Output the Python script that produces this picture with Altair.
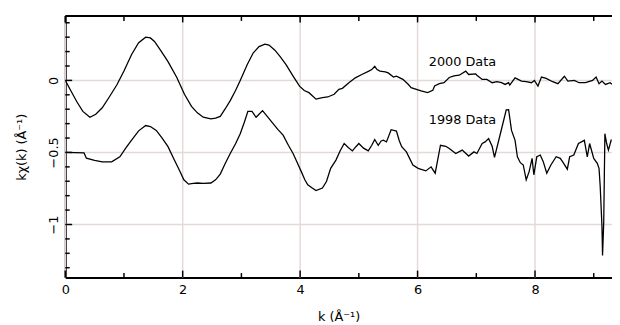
import altair as alt
import pandas as pd

# ---- data ----
k_2000 = [0.00, 0.10, 0.20, 0.30, 0.42, 0.52, 0.63, 0.75, 0.88, 1.00, 1.13, 1.25, 1.37, 1.45, 1.52,
          1.63, 1.75, 1.90, 2.03, 2.15, 2.25, 2.35, 2.48, 2.56, 2.64, 2.72, 2.81, 2.90, 2.98, 3.10,
          3.20, 3.30, 3.40, 3.47, 3.57, 3.66, 3.76, 3.88, 3.99, 4.07, 4.15, 4.27, 4.38, 4.47, 4.58,
          4.66, 4.72, 4.83, 4.94, 5.05, 5.17, 5.22, 5.27, 5.31, 5.36, 5.45, 5.50, 5.59, 5.64, 5.75,
          5.84, 5.89, 5.98, 6.06, 6.17, 6.26, 6.29, 6.37, 6.45, 6.54, 6.62, 6.71, 6.82, 6.87, 6.99,
          7.01, 7.10, 7.18, 7.27, 7.35, 7.43, 7.49, 7.55, 7.57, 7.66, 7.77, 7.85, 7.94, 7.99, 8.05,
          8.11, 8.19, 8.30, 8.39, 8.50, 8.56, 8.67, 8.75, 8.86, 8.98, 9.04, 9.09, 9.14, 9.20, 9.28, 9.31]
chi_2000 = [0.000, -0.075, -0.150, -0.215, -0.256, -0.235, -0.190, -0.115, -0.030, 0.065, 0.180, 0.262,
            0.300, 0.295, 0.270, 0.205, 0.130, 0.020, -0.096, -0.180, -0.225, -0.255, -0.267, -0.262,
            -0.250, -0.200, -0.140, -0.070, 0.000, 0.110, 0.190, 0.235, 0.252, 0.245, 0.210, 0.165,
            0.110, 0.030, -0.040, -0.070, -0.085, -0.130, -0.119, -0.115, -0.096, -0.062, -0.055,
            -0.016, 0.018, 0.041, 0.064, 0.075, 0.098, 0.075, 0.064, 0.059, 0.052, 0.023, 0.030,
            0.007, -0.027, -0.050, -0.062, -0.073, -0.085, -0.069, -0.039, -0.023, -0.016, 0.020,
            0.032, 0.036, 0.064, 0.041, 0.045, 0.036, 0.007, 0.007, -0.016, -0.009, -0.016, -0.028,
            -0.016, -0.032, 0.018, -0.005, -0.009, -0.016, 0.000, -0.039, 0.023, 0.014, -0.009,
            -0.023, 0.029, -0.005, 0.000, -0.016, -0.016, 0.000, 0.023, -0.023, -0.005, -0.028,
            -0.016, -0.027]

k_1998 = [0.00, 0.32, 0.36, 0.50, 0.63, 0.79, 0.93, 1.03, 1.13, 1.25, 1.37, 1.45, 1.55, 1.65, 1.75,
          1.85, 1.94, 2.02, 2.10, 2.18, 2.25, 2.35, 2.48, 2.56, 2.64, 2.72, 2.81, 2.90, 2.98, 3.05,
          3.11, 3.18, 3.25, 3.30, 3.36, 3.45, 3.54, 3.62, 3.71, 3.80, 3.88, 3.95, 4.02, 4.08, 4.13,
          4.20, 4.27, 4.38, 4.45, 4.52, 4.61, 4.68, 4.75, 4.82, 4.89, 4.95, 5.00, 5.08, 5.16, 5.22,
          5.27, 5.33, 5.38, 5.42, 5.47, 5.55, 5.64, 5.69, 5.73, 5.81, 5.92, 6.01, 6.14, 6.23, 6.30,
          6.39, 6.48, 6.54, 6.65, 6.76, 6.87, 6.96, 7.01, 7.10, 7.15, 7.21, 7.27, 7.31, 7.41, 7.51,
          7.55, 7.60, 7.66, 7.70, 7.75, 7.80, 7.85, 7.90, 7.95, 7.98, 8.03, 8.09, 8.14, 8.20, 8.27,
          8.36, 8.43, 8.48, 8.55, 8.59, 8.66, 8.74, 8.84, 8.89, 8.93, 9.00, 9.06, 9.09, 9.11, 9.14,
          9.15, 9.17, 9.19, 9.22, 9.25, 9.30]
chi_1998 = [-0.500, -0.503, -0.540, -0.555, -0.565, -0.565, -0.530, -0.470, -0.415, -0.350, -0.313,
            -0.320, -0.347, -0.400, -0.460, -0.545, -0.620, -0.690, -0.720, -0.715, -0.712, -0.715,
            -0.712, -0.690, -0.650, -0.580, -0.507, -0.440, -0.370, -0.290, -0.215, -0.215, -0.256,
            -0.235, -0.210, -0.255, -0.300, -0.340, -0.380, -0.450, -0.507, -0.570, -0.633, -0.690,
            -0.724, -0.745, -0.765, -0.747, -0.700, -0.610, -0.553, -0.490, -0.438, -0.465, -0.489,
            -0.460, -0.438, -0.470, -0.489, -0.450, -0.410, -0.450, -0.420, -0.415, -0.427, -0.342,
            -0.352, -0.420, -0.460, -0.496, -0.587, -0.610, -0.628, -0.600, -0.644, -0.450, -0.457,
            -0.473, -0.507, -0.484, -0.525, -0.496, -0.507, -0.438, -0.427, -0.404, -0.457, -0.534,
            -0.370, -0.205, -0.203, -0.347, -0.416, -0.530, -0.571, -0.587, -0.690, -0.633, -0.541,
            -0.655, -0.530, -0.518, -0.564, -0.644, -0.587, -0.530, -0.541, -0.571, -0.616, -0.530,
            -0.518, -0.438, -0.416, -0.530, -0.438, -0.541, -0.575, -0.610, -0.735, -1.010, -1.215,
            -0.986, -0.370, -0.438, -0.484, -0.410]

series_labels = ["2000 Data", "1998 Data"]
label_k = [6.19, 6.19]
label_chi = [0.125, -0.272]

x_major = [0, 2, 4, 6, 8]
x_minor = [1, 3, 5, 7, 9]
y_major = [0, -0.5, -1]
y_minor = [0.4, 0.3, 0.2, 0.1, -0.1, -0.2, -0.3, -0.4, -0.6, -0.7, -0.8, -0.9, -1.1, -1.2, -1.3]

X_DOMAIN = [0, 9.311]
Y_DOMAIN = [-1.368, 0.447]
W, H = 554, 265
FONT = "DejaVu Sans"
GRID = "#e3d9d7"

xs = alt.Scale(domain=X_DOMAIN, nice=False, zero=False)
ys = alt.Scale(domain=Y_DOMAIN, nice=False, zero=False)

AX = alt.Axis(values=x_major, format="d", title="k (Å⁻¹)", grid=False,
              ticks=False, domain=True, domainColor="black",
              domainWidth=2, labelFlush=False, labelFont=FONT, labelFontSize=13,
              labelColor="black", labelPadding=6, titleFont=FONT, titleFontSize=13,
              titleFontWeight="normal", titleColor="black", titlePadding=15)
AY = alt.Axis(values=y_major, title="kχ(k) (Å⁻¹)", format="~g", grid=False,
              ticks=False, domain=True,
              domainColor="black", domainWidth=2, labelAngle=270, labelFlush=False,
              labelAlign="center", labelBaseline="bottom", labelPadding=5,
              labelFont=FONT, labelFontSize=13, labelColor="black",
              titleFont=FONT, titleFontSize=13, titleFontWeight="normal",
              titleColor="black", titlePadding=19)


def X(field="k"):
    return alt.X(f"{field}:Q", scale=xs, axis=AX)


def Y(field="chi"):
    return alt.Y(f"{field}:Q", scale=ys, axis=AY)


df = pd.concat([
    pd.DataFrame({"k": k_2000, "chi": chi_2000, "s": "2000 Data"}),
    pd.DataFrame({"k": k_1998, "chi": chi_1998, "s": "1998 Data"}),
])

# gridlines (under the curves)
xgrid = alt.Chart(pd.DataFrame({"gk": x_major})).mark_rule(color=GRID, strokeWidth=1.5).encode(
    x=X("gk"), y=alt.value(0), y2=alt.value(H))
ygrid = alt.Chart(pd.DataFrame({"gchi": y_major})).mark_rule(color=GRID, strokeWidth=1.5).encode(
    y=Y("gchi"), x=alt.value(0), x2=alt.value(W))

lines = alt.Chart(df).mark_line(color="black", strokeWidth=1.3, clip=True).encode(
    x=X(), y=Y(), detail="s:N")

lab_df = pd.DataFrame({"k": label_k, "chi": label_chi, "t": series_labels})
labels = alt.Chart(lab_df).mark_text(align="left", baseline="middle", font=FONT,
                                     fontSize=13, color="black").encode(
    x=X(), y=Y(), text="t:N")


def xticks(vals, y0, y1):
    return alt.Chart(pd.DataFrame({"k": vals})).mark_rule(color="black", strokeWidth=1.5).encode(
        x=X(), y=alt.value(y0), y2=alt.value(y1))


def yticks(vals, x0, x1):
    return alt.Chart(pd.DataFrame({"chi": vals})).mark_rule(color="black", strokeWidth=1.5).encode(
        y=Y(), x=alt.value(x0), x2=alt.value(x1))


top_border = alt.Chart(pd.DataFrame({"a": [0]})).mark_rule(color="black", strokeWidth=2).encode(
    x=alt.value(0), x2=alt.value(W), y=alt.value(0))

chart = alt.layer(
    xgrid, ygrid,
    lines, labels,
    xticks(x_major, H, H - 7), xticks(x_minor, H, H - 4.5),
    xticks(x_major, 0, 6.5), xticks(x_minor, 0, 5),
    yticks(y_major, 0, 7), yticks(y_minor, 0, 4.5),
    top_border,
).properties(
    width=W, height=H,
    autosize=alt.AutoSizeParams(type="none"),
    padding={"left": 58, "top": 6, "right": 0, "bottom": 46},
).configure_view(stroke=None).configure(background="white")

chart.save("out.html", embed_options={"renderer": "svg", "actions": False})
